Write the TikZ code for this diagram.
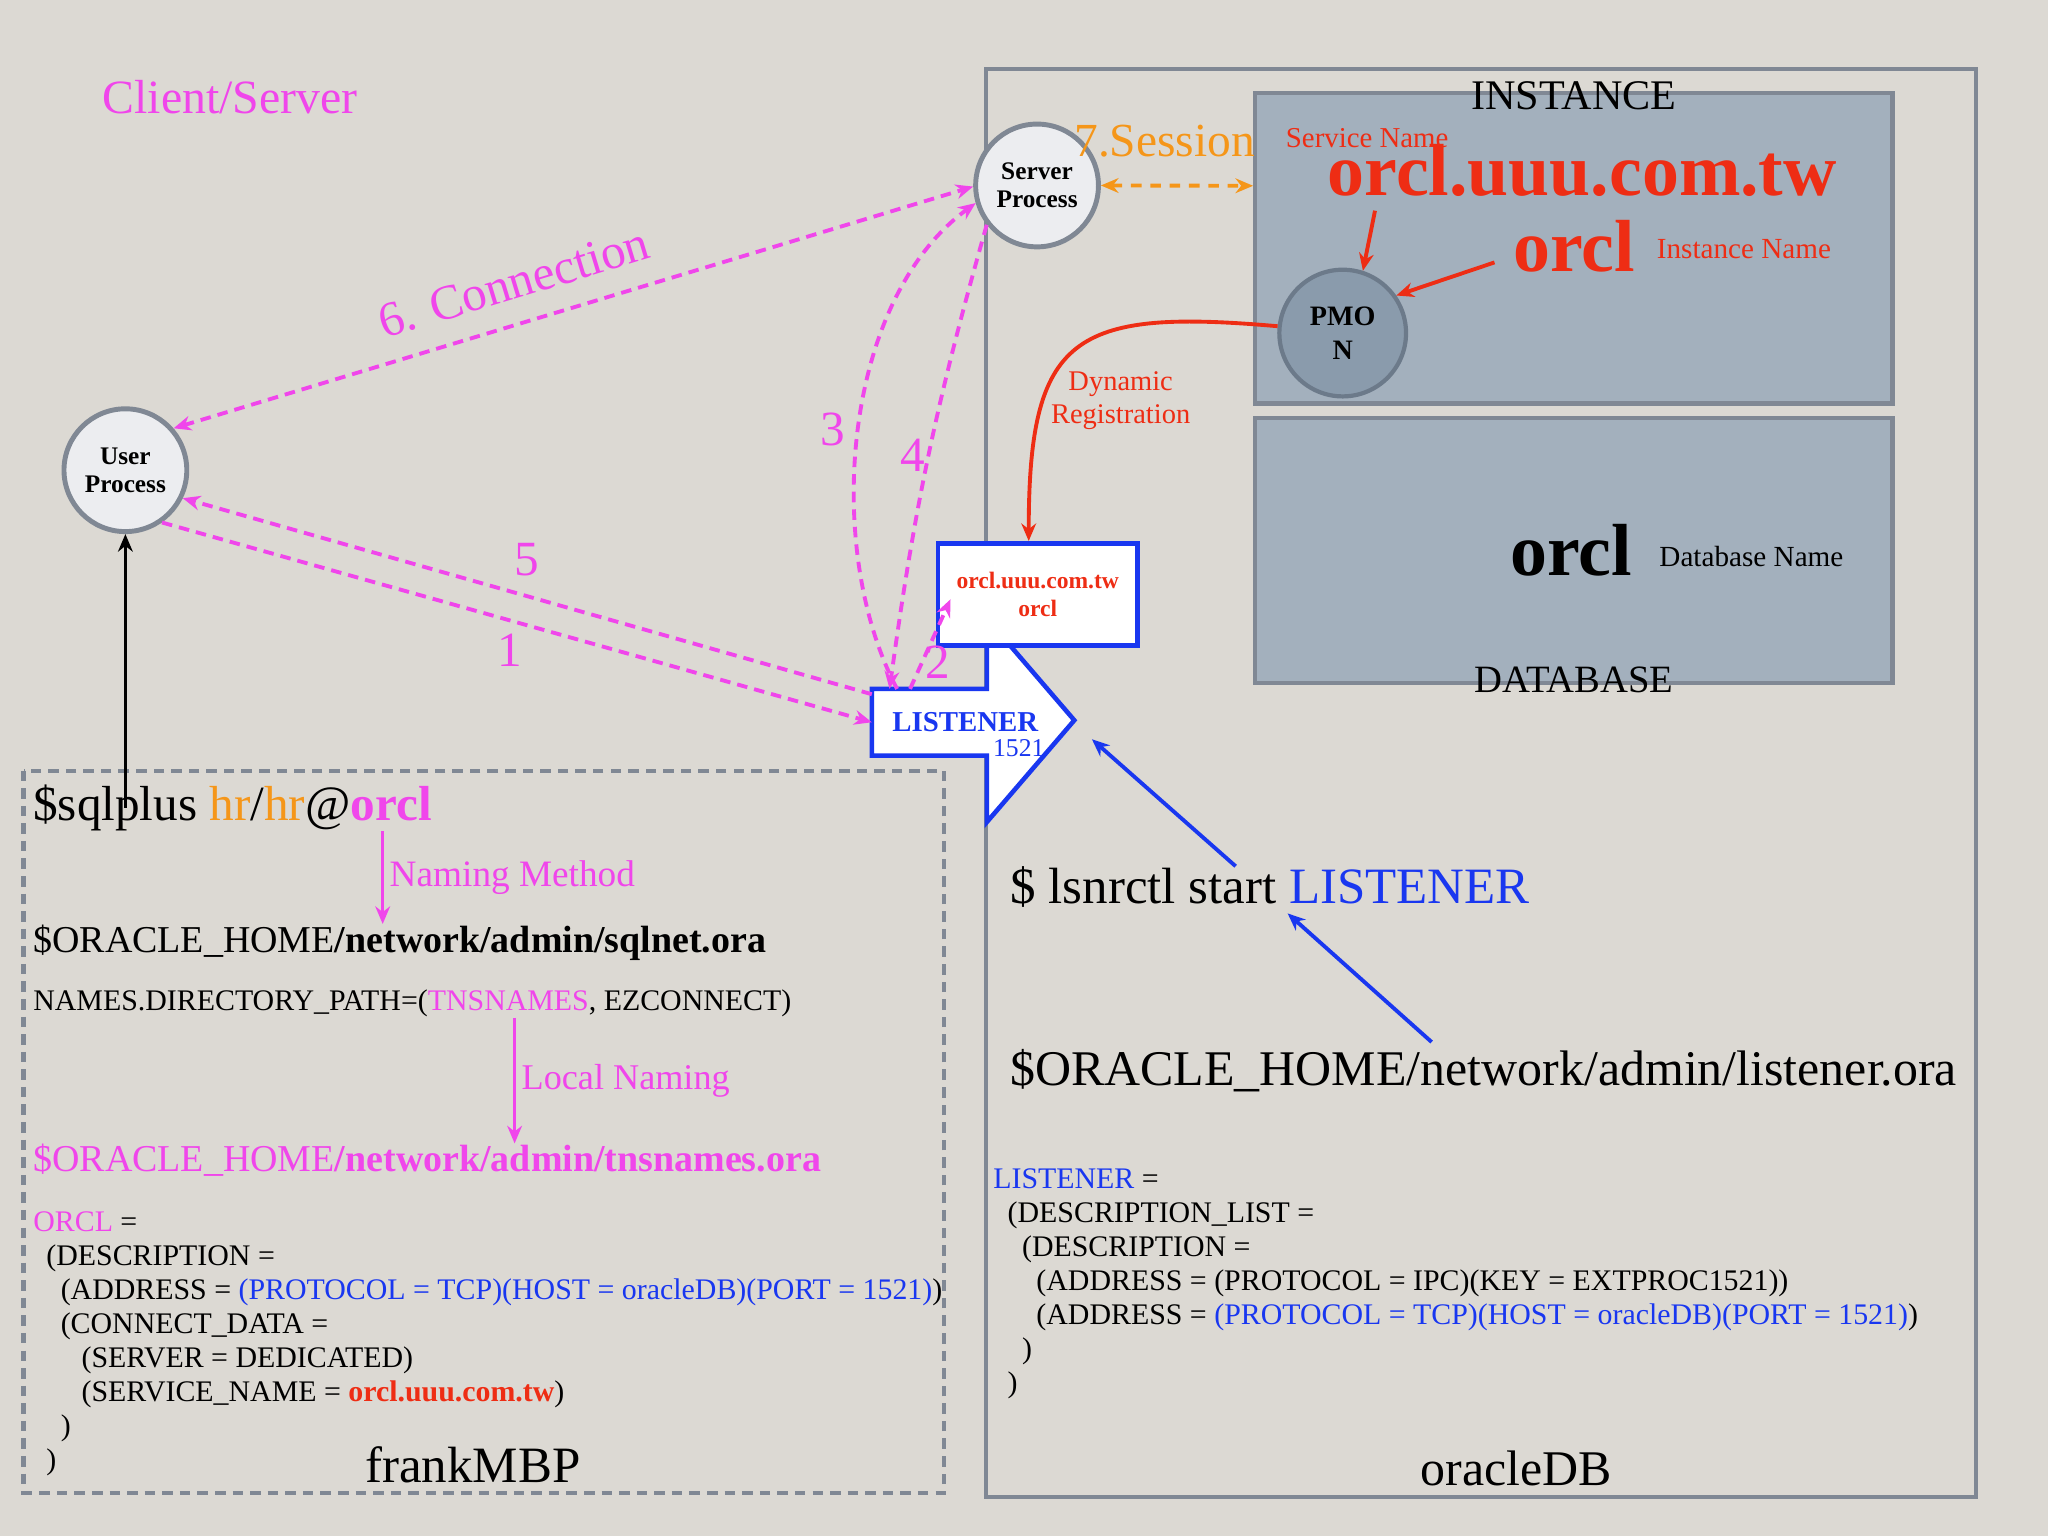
\documentclass[tikz,border=0pt]{standalone}
\usepackage{fontspec}
\setmainfont{Liberation Serif}
\usetikzlibrary{arrows.meta}
\definecolor{bgc}{RGB}{220,217,211}
\definecolor{mag}{RGB}{240,70,235}
\definecolor{orng}{RGB}{245,150,25}
\definecolor{redc}{RGB}{238,45,20}
\definecolor{bluec}{RGB}{25,55,240}
\definecolor{framec}{RGB}{128,136,148}
\definecolor{slate}{RGB}{163,176,189}
\definecolor{pmonc}{RGB}{138,155,172}
\definecolor{pmond}{RGB}{108,122,138}
\definecolor{circc}{RGB}{236,237,240}
\newcommand{\fsz}[1]{\fontsize{#1}{#1}\selectfont}

\begin{document}
\begin{tikzpicture}[x=0.013061cm,y=-0.013061cm,
  >={Stealth[length=5pt,width=4.2pt]},
  txt/.style={inner sep=0pt,anchor=base west},
  proc/.style={circle,draw=framec,line width=1.4pt,fill=circc,minimum size=1.228cm,inner sep=0pt,align=center,font=\bfseries\fontsize{7.2}{8}\selectfont},
  area/.style={draw=framec,line width=1.2pt,fill=slate,minimum width=6.374cm},
  magline/.style={draw=mag,line width=1.1pt,dash pattern=on 3pt off 2pt,->},
  numlbl/.style={text=mag,font=\fsz{14}},
  redline/.style={draw=redc,line width=1.1pt,->},
  blueline/.style={draw=bluec,line width=1.1pt,->}]
\useasboundingbox (0,0) rectangle (1568,1176);
\fill[bgc] (0,0) rectangle (1568,1176);

\draw[framec,line width=1.2pt] (755,53) rectangle (1513,1146);
\draw[framec,line width=1.2pt,dash pattern=on 3pt off 2pt] (18,590) rectangle (723,1143);

\node[area,minimum height=3.108cm] (inst) at (1205,190) {};
\node[area,minimum height=2.651cm] (db) at (1205,421.5) {};

\node[proc] (user) at (96,360) {User\\Process};
\node[proc] (server) at (794,142) {Server\\Process};
\node[circle,draw=pmond,line width=1.2pt,fill=pmonc,minimum size=1.267cm,inner sep=0pt,align=center,font=\bfseries\fontsize{8}{9.7}\selectfont] (pmon) at (1028,255) {PMO\\N};

\node[minimum width=1.136cm,minimum height=0.653cm,inner sep=0pt] (lsnr) at (711.5,553) {};
\draw[draw=bluec,fill=white,line width=1.3pt] (lsnr.north west) -- (lsnr.north east) -- ++(0,-54) -- ++(67,78) -- ++(-67,78) -- (lsnr.south east) -- (lsnr.south west) -- cycle;
\node[text=bluec,font=\bfseries\fsz{8.2}] (lsnrtxt) at (739,553) {LISTENER};
\node[text=bluec,font=\fsz{7.3}] (port) at (780,573) {1521};

\node[draw=bluec,fill=white,line width=1.3pt,minimum width=1.998cm,minimum height=1.019cm,align=center,text=redc,font=\bfseries\fontsize{6.7}{7.8}\selectfont] (svc) at (794.5,455) {orcl.uuu.com.tw\\orcl};

\node[txt,text=mag,font=\fsz{13.6}] (title) at (78,87) {Client/Server};

\node[txt,anchor=base,font=\fsz{12}] (insttitle) at (1205,84) {INSTANCE};
\node[txt,anchor=base,font=\fsz{11}] (dbtitle) at (1205,530) {DATABASE};
\node[txt,text=redc,font=\fsz{8.2}] (svclabel) at (984,113) {Service Name};
\node[txt,text=redc,font=\bfseries\fsz{21}] (svcname) at (1016,150) {orcl.uuu.com.tw};
\node[txt,text=redc,font=\bfseries\fsz{21}] (instname) at (1158,208) {orcl};
\node[txt,text=redc,font=\fsz{8.3}] (instlabel) at (1268,198) {Instance Name};
\node[txt,font=\bfseries\fsz{21}] (dbname) at (1156,441) {orcl};
\node[txt,font=\fsz{8.3}] (dblabel) at (1270,434) {Database Name};
\node[txt,text=orng,font=\fsz{13.5}] (sess) at (822,120) {7.Session};
\node[text=redc,align=center,font=\fontsize{8.1}{9.3}\selectfont] (dynreg) at (858,307) {Dynamic\\Registration};

\node[txt,font=\fsz{14}] (sqlcmd) at (25,628) {\$sqlplus \textcolor{orng}{hr}/\textcolor{orng}{hr}@\textcolor{mag}{\bfseries orcl}};
\node[txt,font=\fsz{10.8}] (sqlnet) at (25,729) {\$ORACLE\_HOME\textbf{/network/admin/sqlnet.ora}};
\node[txt,font=\fsz{8.5}] (names) at (25,774) {NAMES.DIRECTORY\_PATH=(\textcolor{mag}{TNSNAMES}, EZCONNECT)};
\node[txt,text=mag,font=\fsz{10.8}] (tnsfile) at (25,897) {\$ORACLE\_HOME\textbf{/network/admin/tnsnames.ora}};
\node[txt,font=\fsz{8.5}] (t1) at (25,943) {\textcolor{mag}{ORCL} =};
\node[txt,font=\fsz{8.5}] (t2) at (35,969) {(DESCRIPTION =};
\node[txt,font=\fsz{8.5}] (t3) at (46,995) {(ADDRESS = \textcolor{bluec}{(PROTOCOL = TCP)(HOST = oracleDB)(PORT = 1521)})};
\node[txt,font=\fsz{8.5}] (t4) at (46,1021) {(CONNECT\_DATA =};
\node[txt,font=\fsz{8.5}] (t5) at (62,1047) {(SERVER = DEDICATED)};
\node[txt,font=\fsz{8.5}] (t6) at (62,1073) {(SERVICE\_NAME = \textcolor{redc}{\bfseries orcl.uuu.com.tw})};
\node[txt,font=\fsz{8.5}] (t7) at (46,1099) {)};
\node[txt,font=\fsz{8.5}] (t8) at (35,1125) {)};
\node[txt,anchor=base,font=\fsz{14.5}] (mbp) at (362,1135) {frankMBP};

\node[txt,font=\fsz{14.5}] (lsnrcmd) at (773,692) {\$ lsnrctl start \textcolor{bluec}{LISTENER}};
\node[txt,font=\fsz{14.2}] (lsnrfile) at (773,831) {\$ORACLE\_HOME/network/admin/listener.ora};
\node[txt,font=\fsz{8.5}] (l1) at (760,910) {\textcolor{bluec}{LISTENER} =};
\node[txt,font=\fsz{8.5}] (l2) at (771,936) {(DESCRIPTION\_LIST =};
\node[txt,font=\fsz{8.5}] (l3) at (782,962) {(DESCRIPTION =};
\node[txt,font=\fsz{8.5}] (l4) at (793,988) {(ADDRESS = (PROTOCOL = IPC)(KEY = EXTPROC1521))};
\node[txt,font=\fsz{8.5}] (l5) at (793,1014) {(ADDRESS = \textcolor{bluec}{(PROTOCOL = TCP)(HOST = oracleDB)(PORT = 1521)})};
\node[txt,font=\fsz{8.5}] (l6) at (782,1040) {)};
\node[txt,font=\fsz{8.5}] (l7) at (771,1066) {)};
\node[txt,anchor=base,font=\fsz{14.2}] (odb) at (1161,1137) {oracleDB};

\coordinate (nmx) at (293,0);
\coordinate (lnx) at (394,0);
\coordinate (tipR) at (836,566);

\draw[->,line width=1pt] (user.south |- sqlcmd.center) -- (user.south);
\draw[draw=mag,line width=1pt,->] (nmx |- sqlcmd.south) -- node[right,inner sep=1.5pt,text=mag,font=\fsz{10.6}] {Naming Method} (nmx |- sqlnet.north);
\draw[draw=mag,line width=1pt,->] (lnx |- names.south) -- node[right,inner sep=1.5pt,text=mag,font=\fsz{10.3}] {Local Naming} (lnx |- tnsfile.north);

\draw[magline,<->] (user.41) -- node[pos=0.44,sloped,above=3pt,text=mag,font=\fsz{14}] {6. Connection} (server.181);
\draw[magline] (lsnr.134) .. controls (630,420) and (645,230) .. (server.196) node[pos=0.5,left=0pt,numlbl] {3};
\draw[magline] (server.218) to[bend right=4] node[pos=0.5,left=-3pt,numlbl] {4} (lsnr.140);
\draw[magline] (lsnr.120) -- node[pos=0.3,right=-3pt,numlbl] {2} ([xshift=0.15cm,yshift=-0.05cm]svc.west);
\draw[magline] (user.-55) -- node[pos=0.49,below,numlbl] {1} (lsnr.west);
\draw[magline] (lsnr.154) -- node[pos=0.5,above=2pt,numlbl] {5} (user.-26);

\draw[draw=orng,line width=1.1pt,dash pattern=on 3pt off 2.5pt,<->] (server.east) -- (inst.169);

\draw[redline] ([xshift=0.48cm,yshift=-0.13cm]svcname.south west) -- (pmon.72);
\draw[redline] ([xshift=-0.18cm,yshift=-0.16cm]instname.west) -- (pmon.35);
\draw[redline] (pmon.174) to[out=175,in=90,looseness=1.6] ([xshift=-0.09cm]svc.north);

\draw[blueline] ([xshift=2.26cm]lsnrcmd.north west) -- (tipR);
\draw[blueline] ([xshift=4.22cm,yshift=0.065cm]lsnrfile.north west) -- ([xshift=2.78cm,yshift=-0.05cm]lsnrcmd.south west);
\end{tikzpicture}
\end{document}
